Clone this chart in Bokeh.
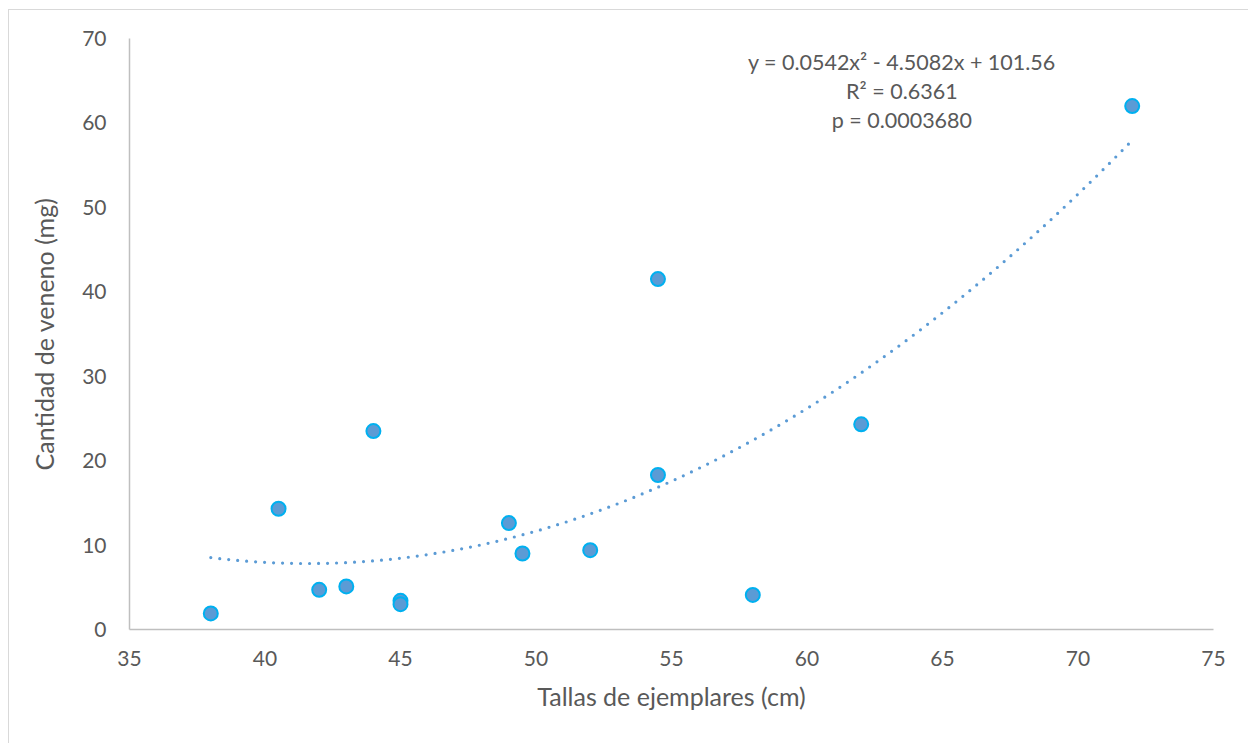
import numpy as np
from bokeh.plotting import figure
from bokeh.models import FixedTicker, Range1d, Label
from bokeh.embed import file_html
from bokeh.resources import INLINE

# Data
tallas = [38, 40.5, 42, 43, 44, 45, 45, 49, 49.5, 52, 54.5, 54.5, 58, 62, 72]
veneno = [1.9, 14.3, 4.7, 5.1, 23.5, 3.4, 3.0, 12.6, 9.0, 9.4, 41.5, 18.3, 4.1, 24.3, 62.0]

# Polynomial trendline as printed on the chart
coef_a, coef_b, coef_c = 0.0542, -4.5082, 101.56
x_ticks = [35, 40, 45, 50, 55, 60, 65, 70, 75]
y_ticks = [0, 10, 20, 30, 40, 50, 60, 70]
eq_lines = ["y = 0.0542x\u00b2 - 4.5082x + 101.56", "R\u00b2 = 0.6361", "p = 0.0003680"]

FONT = "Lato"
TXT = "#595959"

p = figure(width=1239, height=733, output_backend="svg", toolbar_location=None,
           x_range=Range1d(35, 75), y_range=Range1d(0, 70),
           min_border_left=120, min_border_right=35, min_border_top=28, min_border_bottom=114)
p.margin = (10, 0, 0, 9)
p.styles = {"outline": "1px solid #d9d9d9"}
p.outline_line_color = None
p.grid.grid_line_color = None

for ax in (p.xaxis, p.yaxis):
    ax.axis_line_color = "#BFBFBF"
    ax.axis_line_width = 1.5
    ax.major_tick_line_color = None
    ax.minor_tick_line_color = None
    ax.major_tick_out = 0
    ax.major_label_text_font = FONT
    ax.major_label_text_font_size = "21px"
    ax.major_label_text_color = TXT
    ax.axis_label_text_font = FONT
    ax.axis_label_text_font_size = "25px"
    ax.axis_label_text_color = TXT
    ax.axis_label_text_font_style = "normal"

p.xaxis.ticker = FixedTicker(ticks=x_ticks)
p.yaxis.ticker = FixedTicker(ticks=y_ticks)
p.xaxis.major_label_standoff = 21
p.yaxis.major_label_standoff = 23
p.xaxis.axis_label = "Tallas de ejemplares (cm)"
p.yaxis.axis_label = "Cantidad de veneno (mg)"
p.xaxis.axis_label_standoff = 12
p.yaxis.axis_label_standoff = 20

xs = np.linspace(min(tallas), max(tallas), 300)
ys = coef_a * xs ** 2 + coef_b * xs + coef_c
p.line(xs, ys, line_color="#5B9BD5", line_width=3.2, line_dash="0 9", line_cap="round")

p.scatter(tallas, veneno, size=14, fill_color="#5B9BD5", line_color="#00B0F0", line_width=2)

label_y = [67.2, 63.8, 60.4]
for t, yy in zip(eq_lines, label_y):
    p.add_layout(Label(x=63.5, y=yy, text=t, text_align="center", text_baseline="middle",
                       text_font=FONT, text_font_size="21.5px", text_color=TXT))

open("out.html", "w").write(file_html(p, INLINE))
